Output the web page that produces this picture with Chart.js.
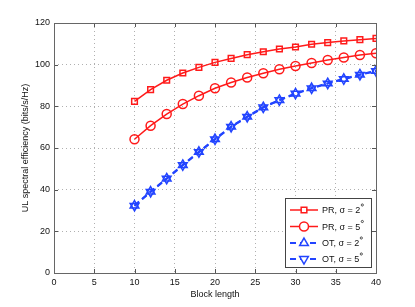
<!doctype html>
<html lang="en">
  <head>
    <meta charset="utf-8">
    <title>UL spectral efficiency vs block length</title>
    <style>
      * { margin: 0; padding: 0; }
      body { background: #fff; }
      .chartBox { width: 415px; height: 307px; }
    </style>
  </head>
  <body>
    <div class="chartBox">
      <canvas id="myChart"></canvas>
    </div>
    <script src="https://cdn.jsdelivr.net/npm/chart.js"></script>
    <script>
    // setup
    const blockLength = [10, 12, 14, 16, 18, 20, 22, 24, 26, 28, 30, 32, 34, 36, 38, 40];
    const prSigma2 = [82.4, 88.0, 92.5, 96.0, 98.7, 101.1, 103.0, 104.8, 106.2, 107.5, 108.5, 109.8, 110.6, 111.4, 112.0, 112.6];
    const prSigma5 = [64.2, 70.7, 76.3, 81.1, 85.1, 88.7, 91.4, 93.8, 95.9, 97.8, 99.4, 100.8, 102.2, 103.4, 104.6, 105.5];
    const otSigma2 = [32.4, 39.1, 45.4, 51.9, 58.2, 64.3, 70.3, 75.1, 79.6, 83.1, 86.2, 88.8, 91.1, 93.2, 95.3, 97.1];
    const otSigma5 = [32.2, 38.9, 45.2, 51.7, 58.0, 64.1, 70.1, 74.9, 79.4, 82.9, 86.0, 88.6, 90.9, 93.0, 95.1, 96.9];
    const xTicks = [0, 5, 10, 15, 20, 25, 30, 35, 40];
    const yTicks = [0, 20, 40, 60, 80, 100, 120];
    const seriesNames = ['PR, σ = 2', 'PR, σ = 5', 'OT, σ = 2', 'OT, σ = 5'];

    const RED = '#ff1a1a';
    const BLUE = '#2244ff';
    const FONT = '"Liberation Sans", Arial, sans-serif';

    const pts = (ys) => blockLength.map((x, i) => ({ x: x, y: ys[i] }));

    const data = {
      datasets: [
        { label: seriesNames[0], data: pts(prSigma2), borderColor: RED, backgroundColor: 'transparent',
          borderWidth: 1.5, pointStyle: 'rect', pointRadius: 4, pointBorderWidth: 1.5, pointBorderColor: RED },
        { label: seriesNames[1], data: pts(prSigma5), borderColor: RED, backgroundColor: 'transparent',
          borderWidth: 1.5, pointStyle: 'circle', pointRadius: 4.5, pointBorderWidth: 1.5, pointBorderColor: RED },
        { label: seriesNames[2], data: pts(otSigma2), borderColor: BLUE, backgroundColor: 'transparent',
          borderWidth: 2, borderDash: [6, 4], pointStyle: 'triangle', pointRadius: 5, pointBorderWidth: 1.5, pointBorderColor: BLUE },
        { label: seriesNames[3], data: pts(otSigma5), borderColor: BLUE, backgroundColor: 'transparent',
          borderWidth: 2, borderDash: [6, 4], pointStyle: 'triangle', rotation: 180, pointRadius: 5, pointBorderWidth: 1.5, pointBorderColor: BLUE }
      ]
    };

    // box, inward ticks and the legend, matlab style
    const frame = {
      id: 'frame',
      afterDraw(chart) {
        const ctx = chart.ctx;
        const a = chart.chartArea;
        const xs = chart.scales.x, ys = chart.scales.y;
        ctx.save();
        ctx.strokeStyle = '#555';
        ctx.lineWidth = 1;
        ctx.beginPath();
        xTicks.forEach(v => {
          const px = Math.round(xs.getPixelForValue(v)) + 0.5;
          ctx.moveTo(px, a.bottom); ctx.lineTo(px, a.bottom - 4);
          ctx.moveTo(px, a.top); ctx.lineTo(px, a.top + 4);
        });
        yTicks.forEach(v => {
          const py = Math.round(ys.getPixelForValue(v)) + 0.5;
          ctx.moveTo(a.left, py); ctx.lineTo(a.left + 4, py);
          ctx.moveTo(a.right, py); ctx.lineTo(a.right - 4, py);
        });
        ctx.stroke();
        ctx.strokeStyle = '#666';
        ctx.strokeRect(Math.round(a.left) + 0.5, Math.round(a.top) + 0.5,
          Math.round(a.right - a.left), Math.round(a.bottom - a.top));

        // legend
        const lx = 285.5, ly = 198.5, lw = 86, lh = 69;
        ctx.fillStyle = '#fff';
        ctx.fillRect(lx, ly, lw, lh);
        ctx.strokeStyle = '#444';
        ctx.strokeRect(lx, ly, lw, lh);
        const rows = [210, 226.5, 243, 259];
        chart.data.datasets.forEach((ds, i) => {
          const y = rows[i];
          ctx.save();
          ctx.strokeStyle = ds.borderColor;
          ctx.lineWidth = ds.borderWidth;
          ctx.setLineDash(ds.borderDash || []);
          ctx.beginPath();
          ctx.moveTo(290, y); ctx.lineTo(318, y);
          ctx.stroke();
          ctx.restore();
          ctx.save();
          ctx.strokeStyle = ds.borderColor;
          ctx.fillStyle = '#fff';
          ctx.lineWidth = ds.pointBorderWidth;
          Chart.helpers.drawPoint(ctx, {
            pointStyle: ds.pointStyle, rotation: ds.rotation || 0,
            radius: ds.pointRadius, borderWidth: ds.pointBorderWidth
          }, 304, y);
          ctx.restore();
          ctx.fillStyle = '#111';
          ctx.font = '9px ' + FONT;
          ctx.textBaseline = 'middle';
          ctx.fillText(ds.label, 322, y + 1);
          const w = ctx.measureText(ds.label).width;
          // small raised degree ring
          ctx.save();
          ctx.strokeStyle = '#111';
          ctx.lineWidth = 0.7;
          ctx.beginPath();
          ctx.arc(322 + w + 2, y - 5, 1.1, 0, Math.PI * 2);
          ctx.stroke();
          ctx.restore();
        });
        ctx.restore();
      }
    };

    // config
    const config = {
      type: 'line',
      data,
      options: {
        responsive: false,
        animation: false,
        layout: { padding: { top: 23, right: 39, left: 0, bottom: 0 } },
        plugins: { legend: { display: false }, tooltip: { enabled: false } },
        scales: {
          x: {
            type: 'linear', min: 0, max: 40,
            afterFit: (s) => { s.height = 34; },
            afterBuildTicks: (s) => { s.ticks = xTicks.map(v => ({ value: v })); },
            grid: { color: '#b0b0b0', drawTicks: false, lineWidth: 1 },
            border: { display: false, dash: [1, 3] },
            ticks: { color: '#111', font: { size: 9, family: FONT }, padding: 4, maxRotation: 0 },
            title: { display: true, text: 'Block length', color: '#111', font: { size: 9, family: FONT }, padding: { top: 2, bottom: 7 } }
          },
          y: {
            min: 0, max: 120,
            afterFit: (s) => { s.width = 54; },
            afterBuildTicks: (s) => { s.ticks = yTicks.map(v => ({ value: v })); },
            grid: { color: '#b0b0b0', drawTicks: false, lineWidth: 1 },
            border: { display: false, dash: [1, 3] },
            ticks: { color: '#111', font: { size: 9, family: FONT }, padding: 4 },
            title: { display: true, text: 'UL spectral efficiency (bits/s/Hz)', color: '#111', font: { size: 9, family: FONT }, padding: { top: 20, bottom: 0 } }
          }
        }
      },
      plugins: [frame]
    };

    const canvas = document.getElementById('myChart');
    canvas.width = 415;
    canvas.height = 307;
    const myChart = new Chart(canvas, config);
    </script>
  </body>
</html>
